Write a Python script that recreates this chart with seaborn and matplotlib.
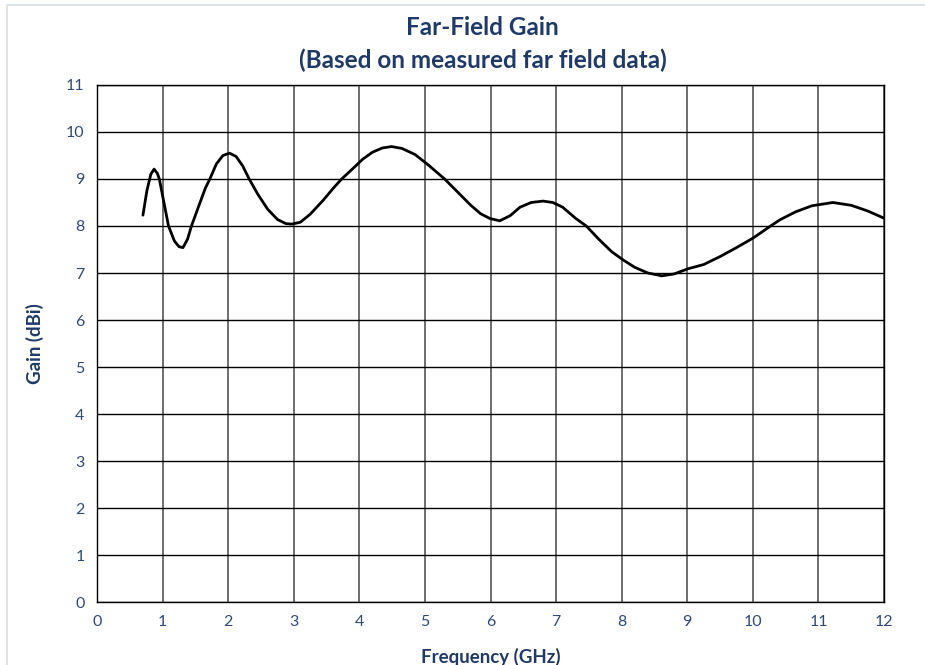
import matplotlib
matplotlib.use("Agg")
import matplotlib.pyplot as plt
import pandas as pd
import seaborn as sns

# values
freq_ghz = [0.70, 0.76, 0.82, 0.87, 0.92, 0.95, 1.02, 1.09, 1.18, 1.25, 1.31, 1.38,
            1.44, 1.55, 1.65, 1.72, 1.82, 1.92, 2.02, 2.12, 2.22, 2.32, 2.45, 2.60,
            2.75, 2.88, 2.97, 3.10, 3.25, 3.45, 3.60, 3.73, 3.90, 4.05, 4.20, 4.35,
            4.49, 4.65, 4.85, 5.05, 5.30, 5.50, 5.70, 5.85, 5.99, 6.14, 6.30, 6.45,
            6.62, 6.80, 6.95, 7.10, 7.30, 7.46, 7.65, 7.85, 8.02, 8.20, 8.40, 8.61,
            8.80, 9.01, 9.25, 9.50, 9.75, 10.00, 10.25, 10.41, 10.65, 10.90, 11.22,
            11.50, 11.75, 12.01]
gain_dbi = [8.23, 8.75, 9.10, 9.21, 9.12, 9.00, 8.50, 8.00, 7.68, 7.56, 7.54, 7.72,
            8.00, 8.42, 8.80, 9.00, 9.32, 9.50, 9.55, 9.48, 9.28, 9.00, 8.68, 8.36,
            8.14, 8.05, 8.04, 8.08, 8.25, 8.55, 8.80, 9.00, 9.22, 9.42, 9.57, 9.66,
            9.69, 9.65, 9.52, 9.30, 9.00, 8.72, 8.44, 8.26, 8.16, 8.11, 8.22, 8.40,
            8.50, 8.53, 8.50, 8.40, 8.16, 8.00, 7.72, 7.45, 7.28, 7.12, 7.00, 6.94,
            6.98, 7.09, 7.18, 7.35, 7.54, 7.74, 7.98, 8.13, 8.30, 8.43, 8.50,
            8.44, 8.32, 8.16]

x_ticks = list(range(0, 13))
y_ticks = list(range(0, 12))

df = pd.DataFrame({"Frequency (GHz)": freq_ghz, "Gain (dBi)": gain_dbi})

sns.set_style("white")
plt.rcParams["font.family"] = ["Lato", "DejaVu Sans"]

navy = "#1F3A68"
tick_col = "#2E4A7A"

fig = plt.figure(figsize=(9.25, 6.65), dpi=100)
ax = fig.add_axes([0.1049, 0.0947, 0.8508, 0.7775])

sns.lineplot(data=df, x="Frequency (GHz)", y="Gain (dBi)", ax=ax,
             color="black", linewidth=2.0, sort=False)

ax.set_xlim(0, 12)
ax.set_ylim(0, 11)
ax.set_xticks(x_ticks)
ax.set_yticks(y_ticks)
ax.tick_params(length=0, labelsize=11.5, colors=tick_col, pad=9)

for xv in x_ticks:
    ax.axvline(xv, color="#6E6E6E", lw=1.4, zorder=0)
for yv in y_ticks:
    ax.axhline(yv, color="black", lw=1.0, zorder=0)
for s in ax.spines.values():
    s.set_color("black")
    s.set_linewidth(1.0)

ax.set_xlabel("Frequency (GHz)", fontsize=13.5, fontweight="bold", color=navy, labelpad=14)
ax.set_ylabel("Gain (dBi)", fontsize=13.5, fontweight="bold", color=navy, labelpad=16)

fig.text(0.522, 0.958, "Far-Field Gain", ha="center", va="center",
         fontsize=17.5, fontweight="bold", color=navy)
fig.text(0.522, 0.909, "(Based on measured far field data)", ha="center", va="center",
         fontsize=17.5, fontweight="bold", color=navy)

fig.patches.append(plt.Rectangle((0.008, -0.01), 1.0, 1.002, transform=fig.transFigure,
                                 fill=False, edgecolor="#D9DEE6", lw=1.2))

fig.savefig("out.png", dpi=100)
